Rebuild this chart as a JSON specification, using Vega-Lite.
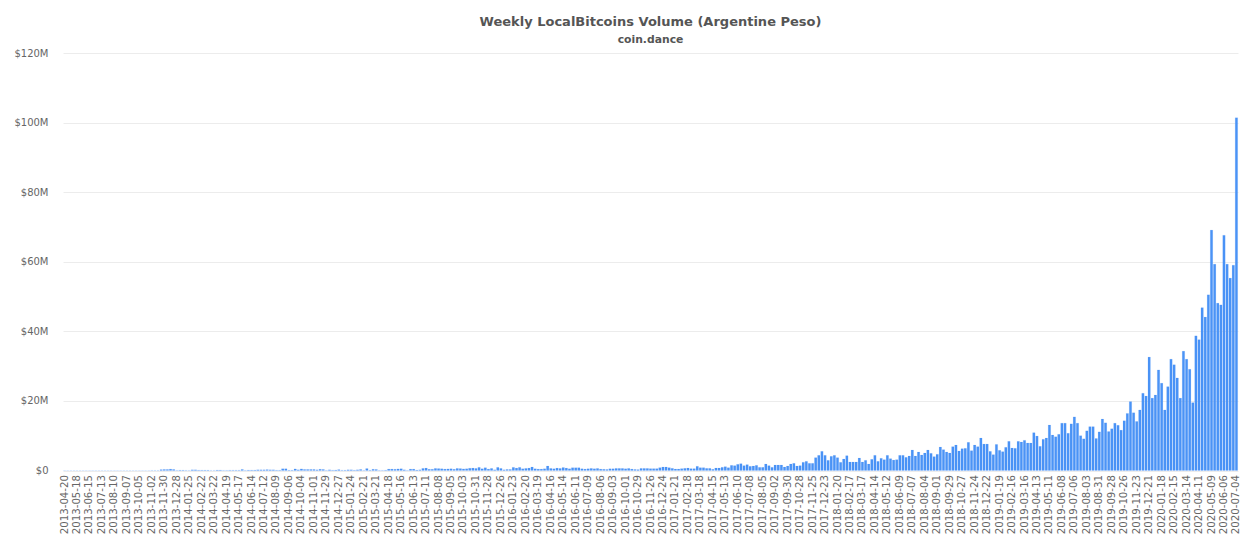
{"$schema":"https://vega.github.io/schema/vega-lite/v6.json","width":1175,"height":417.5,"autosize":"none","padding":{"left":63,"top":53,"right":15,"bottom":79.5},"background":"white","config":{"view":{"stroke":null}},"title":{"text":"Weekly LocalBitcoins Volume (Argentine Peso)","subtitle":"coin.dance","anchor":"middle","font":"DejaVu Sans","fontSize":13,"fontWeight":"bold","color":"#555555","subtitleFont":"DejaVu Sans","subtitleFontSize":10.8,"subtitleFontWeight":"bold","subtitleColor":"#555555","subtitlePadding":5,"offset":3},"data":{"values":[
{"d":"2013-04-20","v":0},{"d":"2013-04-27","v":0},{"d":"2013-05-04","v":0},{"d":"2013-05-11","v":0},{"d":"2013-05-18","v":0},{"d":"2013-05-25","v":0},{"d":"2013-06-01","v":0},{"d":"2013-06-08","v":0},{"d":"2013-06-15","v":0},{"d":"2013-06-22","v":0},{"d":"2013-06-29","v":0},{"d":"2013-07-06","v":0},{"d":"2013-07-13","v":0},{"d":"2013-07-20","v":0},{"d":"2013-07-27","v":0},{"d":"2013-08-03","v":0},{"d":"2013-08-10","v":0},{"d":"2013-08-17","v":0},{"d":"2013-08-24","v":0},{"d":"2013-08-31","v":0},{"d":"2013-09-07","v":0},{"d":"2013-09-14","v":0},{"d":"2013-09-21","v":0},{"d":"2013-09-28","v":0},{"d":"2013-10-05","v":0},{"d":"2013-10-12","v":0},{"d":"2013-10-19","v":0},{"d":"2013-10-26","v":0},{"d":"2013-11-02","v":0.03},{"d":"2013-11-09","v":0.03},{"d":"2013-11-16","v":0.03},{"d":"2013-11-23","v":0.25},{"d":"2013-11-30","v":0.3},{"d":"2013-12-07","v":0.3},{"d":"2013-12-14","v":0.4},{"d":"2013-12-21","v":0.3},{"d":"2013-12-28","v":0.05},
{"d":"2014-01-04","v":0.1},{"d":"2014-01-11","v":0.1},{"d":"2014-01-18","v":0.05},{"d":"2014-01-25","v":0.03},{"d":"2014-02-01","v":0.2},{"d":"2014-02-08","v":0.2},{"d":"2014-02-15","v":0.1},{"d":"2014-02-22","v":0.1},{"d":"2014-03-01","v":0.1},{"d":"2014-03-08","v":0.1},{"d":"2014-03-15","v":0.03},{"d":"2014-03-22","v":0.03},{"d":"2014-03-29","v":0.12},{"d":"2014-04-05","v":0.12},{"d":"2014-04-12","v":0.05},{"d":"2014-04-19","v":0.05},{"d":"2014-04-26","v":0.08},{"d":"2014-05-03","v":0.08},{"d":"2014-05-10","v":0.08},{"d":"2014-05-17","v":0.08},{"d":"2014-05-24","v":0.3},{"d":"2014-05-31","v":0.05},{"d":"2014-06-07","v":0.12},{"d":"2014-06-14","v":0.12},{"d":"2014-06-21","v":0.12},{"d":"2014-06-28","v":0.2},{"d":"2014-07-05","v":0.2},{"d":"2014-07-12","v":0.2},{"d":"2014-07-19","v":0.25},{"d":"2014-07-26","v":0.2},{"d":"2014-08-02","v":0.2},{"d":"2014-08-09","v":0.1},{"d":"2014-08-16","v":0.1},{"d":"2014-08-23","v":0.5},{"d":"2014-08-30","v":0.5},{"d":"2014-09-06","v":0.1},{"d":"2014-09-13","v":0.1},{"d":"2014-09-20","v":0.45},{"d":"2014-09-27","v":0.2},{"d":"2014-10-04","v":0.45},{"d":"2014-10-11","v":0.3},{"d":"2014-10-18","v":0.3},{"d":"2014-10-25","v":0.3},{"d":"2014-11-01","v":0.3},{"d":"2014-11-08","v":0.2},{"d":"2014-11-15","v":0.35},{"d":"2014-11-22","v":0.3},{"d":"2014-11-29","v":0.05},{"d":"2014-12-06","v":0.2},{"d":"2014-12-13","v":0.1},{"d":"2014-12-20","v":0.15},{"d":"2014-12-27","v":0.25},
{"d":"2015-01-03","v":0.08},{"d":"2015-01-10","v":0.1},{"d":"2015-01-17","v":0.2},{"d":"2015-01-24","v":0.2},{"d":"2015-01-31","v":0.1},{"d":"2015-02-07","v":0.2},{"d":"2015-02-14","v":0.3},{"d":"2015-02-21","v":0.05},{"d":"2015-02-28","v":0.55},{"d":"2015-03-07","v":0.1},{"d":"2015-03-14","v":0.35},{"d":"2015-03-21","v":0.3},{"d":"2015-03-28","v":0.05},{"d":"2015-04-04","v":0.05},{"d":"2015-04-11","v":0.1},{"d":"2015-04-18","v":0.4},{"d":"2015-04-25","v":0.4},{"d":"2015-05-02","v":0.35},{"d":"2015-05-09","v":0.45},{"d":"2015-05-16","v":0.5},{"d":"2015-05-23","v":0.2},{"d":"2015-05-30","v":0.05},{"d":"2015-06-06","v":0.4},{"d":"2015-06-13","v":0.4},{"d":"2015-06-20","v":0.15},{"d":"2015-06-27","v":0.2},{"d":"2015-07-04","v":0.6},{"d":"2015-07-11","v":0.7},{"d":"2015-07-18","v":0.35},{"d":"2015-07-25","v":0.35},{"d":"2015-08-01","v":0.6},{"d":"2015-08-08","v":0.55},{"d":"2015-08-15","v":0.5},{"d":"2015-08-22","v":0.4},{"d":"2015-08-29","v":0.45},{"d":"2015-09-05","v":0.5},{"d":"2015-09-12","v":0.35},{"d":"2015-09-19","v":0.6},{"d":"2015-09-26","v":0.55},{"d":"2015-10-03","v":0.45},{"d":"2015-10-10","v":0.5},{"d":"2015-10-17","v":0.65},{"d":"2015-10-24","v":0.7},{"d":"2015-10-31","v":0.6},{"d":"2015-11-07","v":0.9},{"d":"2015-11-14","v":0.5},{"d":"2015-11-21","v":0.8},{"d":"2015-11-28","v":0.4},{"d":"2015-12-05","v":0.6},{"d":"2015-12-12","v":0.2},{"d":"2015-12-19","v":0.9},{"d":"2015-12-26","v":0.6},
{"d":"2016-01-02","v":0.2},{"d":"2016-01-09","v":0.3},{"d":"2016-01-16","v":0.3},{"d":"2016-01-23","v":0.9},{"d":"2016-01-30","v":0.7},{"d":"2016-02-06","v":0.9},{"d":"2016-02-13","v":0.5},{"d":"2016-02-20","v":0.6},{"d":"2016-02-27","v":0.7},{"d":"2016-03-05","v":1.0},{"d":"2016-03-12","v":0.5},{"d":"2016-03-19","v":0.4},{"d":"2016-03-26","v":0.4},{"d":"2016-04-02","v":0.5},{"d":"2016-04-09","v":1.3},{"d":"2016-04-16","v":0.6},{"d":"2016-04-23","v":0.5},{"d":"2016-04-30","v":0.7},{"d":"2016-05-07","v":0.6},{"d":"2016-05-14","v":0.85},{"d":"2016-05-21","v":0.7},{"d":"2016-05-28","v":0.5},{"d":"2016-06-04","v":0.8},{"d":"2016-06-11","v":0.8},{"d":"2016-06-18","v":0.8},{"d":"2016-06-25","v":0.5},{"d":"2016-07-02","v":0.4},{"d":"2016-07-09","v":0.5},{"d":"2016-07-16","v":0.6},{"d":"2016-07-23","v":0.5},{"d":"2016-07-30","v":0.6},{"d":"2016-08-06","v":0.4},{"d":"2016-08-13","v":0.35},{"d":"2016-08-20","v":0.3},{"d":"2016-08-27","v":0.5},{"d":"2016-09-03","v":0.5},{"d":"2016-09-10","v":0.6},{"d":"2016-09-17","v":0.6},{"d":"2016-09-24","v":0.6},{"d":"2016-10-01","v":0.5},{"d":"2016-10-08","v":0.6},{"d":"2016-10-15","v":0.4},{"d":"2016-10-22","v":0.3},{"d":"2016-10-29","v":0.25},{"d":"2016-11-05","v":0.6},{"d":"2016-11-12","v":0.6},{"d":"2016-11-19","v":0.6},{"d":"2016-11-26","v":0.53},{"d":"2016-12-03","v":0.53},{"d":"2016-12-10","v":0.53},{"d":"2016-12-17","v":0.81},{"d":"2016-12-24","v":1.0},{"d":"2016-12-31","v":1.0},
{"d":"2017-01-07","v":0.81},{"d":"2017-01-14","v":0.62},{"d":"2017-01-21","v":0.43},{"d":"2017-01-28","v":0.43},{"d":"2017-02-04","v":0.53},{"d":"2017-02-11","v":0.62},{"d":"2017-02-18","v":0.72},{"d":"2017-02-25","v":0.53},{"d":"2017-03-04","v":0.53},{"d":"2017-03-11","v":1.2},{"d":"2017-03-18","v":0.81},{"d":"2017-03-25","v":0.81},{"d":"2017-04-01","v":0.62},{"d":"2017-04-08","v":0.62},{"d":"2017-04-15","v":0.34},{"d":"2017-04-22","v":0.72},{"d":"2017-04-29","v":0.72},{"d":"2017-05-06","v":0.91},{"d":"2017-05-13","v":1.1},{"d":"2017-05-20","v":0.81},{"d":"2017-05-27","v":1.48},{"d":"2017-06-03","v":1.39},{"d":"2017-06-10","v":1.77},{"d":"2017-06-17","v":1.96},{"d":"2017-06-24","v":1.39},{"d":"2017-07-01","v":1.68},{"d":"2017-07-08","v":1.2},{"d":"2017-07-15","v":1.29},{"d":"2017-07-22","v":1.48},{"d":"2017-07-29","v":0.91},{"d":"2017-08-05","v":0.91},{"d":"2017-08-12","v":1.87},{"d":"2017-08-19","v":1.39},{"d":"2017-08-26","v":0.91},{"d":"2017-09-02","v":1.58},{"d":"2017-09-09","v":1.58},{"d":"2017-09-16","v":1.58},{"d":"2017-09-23","v":1.0},{"d":"2017-09-30","v":1.29},{"d":"2017-10-07","v":1.87},{"d":"2017-10-14","v":2.06},{"d":"2017-10-21","v":1.29},{"d":"2017-10-28","v":1.39},{"d":"2017-11-04","v":2.35},{"d":"2017-11-11","v":2.63},{"d":"2017-11-18","v":2.06},{"d":"2017-11-25","v":2.06},{"d":"2017-12-02","v":3.69},{"d":"2017-12-09","v":4.36},{"d":"2017-12-16","v":5.51},{"d":"2017-12-23","v":4.36},{"d":"2017-12-30","v":2.92},
{"d":"2018-01-06","v":4.07},{"d":"2018-01-13","v":4.36},{"d":"2018-01-20","v":3.69},{"d":"2018-01-27","v":2.35},{"d":"2018-02-03","v":3.3},{"d":"2018-02-10","v":4.26},{"d":"2018-02-17","v":2.44},{"d":"2018-02-24","v":2.44},{"d":"2018-03-03","v":2.44},{"d":"2018-03-10","v":3.59},{"d":"2018-03-17","v":2.44},{"d":"2018-03-24","v":2.92},{"d":"2018-03-31","v":1.87},{"d":"2018-04-07","v":3.21},{"d":"2018-04-14","v":4.36},{"d":"2018-04-21","v":2.63},{"d":"2018-04-28","v":3.5},{"d":"2018-05-05","v":3.11},{"d":"2018-05-12","v":4.36},{"d":"2018-05-19","v":3.4},{"d":"2018-05-26","v":3.0},{"d":"2018-06-02","v":3.11},{"d":"2018-06-09","v":4.36},{"d":"2018-06-16","v":4.36},{"d":"2018-06-23","v":3.78},{"d":"2018-06-30","v":4.17},{"d":"2018-07-07","v":5.89},{"d":"2018-07-14","v":4.17},{"d":"2018-07-21","v":5.32},{"d":"2018-07-28","v":4.45},{"d":"2018-08-04","v":5.03},{"d":"2018-08-11","v":5.89},{"d":"2018-08-18","v":4.93},{"d":"2018-08-25","v":3.98},{"d":"2018-09-01","v":4.65},{"d":"2018-09-08","v":6.75},{"d":"2018-09-15","v":5.99},{"d":"2018-09-22","v":5.32},{"d":"2018-09-29","v":5.03},{"d":"2018-10-06","v":6.85},{"d":"2018-10-13","v":7.33},{"d":"2018-10-20","v":5.6},{"d":"2018-10-27","v":6.27},{"d":"2018-11-03","v":6.37},{"d":"2018-11-10","v":8.1},{"d":"2018-11-17","v":5.7},{"d":"2018-11-24","v":7.33},{"d":"2018-12-01","v":6.85},{"d":"2018-12-08","v":9.34},{"d":"2018-12-15","v":7.6},{"d":"2018-12-22","v":7.6},{"d":"2018-12-29","v":5.5},
{"d":"2019-01-05","v":4.55},{"d":"2019-01-12","v":7.5},{"d":"2019-01-19","v":5.8},{"d":"2019-01-26","v":5.41},{"d":"2019-02-02","v":6.66},{"d":"2019-02-09","v":8.38},{"d":"2019-02-16","v":6.47},{"d":"2019-02-23","v":6.37},{"d":"2019-03-02","v":8.38},{"d":"2019-03-09","v":8.19},{"d":"2019-03-16","v":8.67},{"d":"2019-03-23","v":7.9},{"d":"2019-03-30","v":7.9},{"d":"2019-04-06","v":10.87},{"d":"2019-04-13","v":9.9},{"d":"2019-04-20","v":6.95},{"d":"2019-04-27","v":8.96},{"d":"2019-05-04","v":9.34},{"d":"2019-05-11","v":13.08},{"d":"2019-05-18","v":10.2},{"d":"2019-05-25","v":9.7},{"d":"2019-06-01","v":10.4},{"d":"2019-06-08","v":13.6},{"d":"2019-06-15","v":13.6},{"d":"2019-06-22","v":10.7},{"d":"2019-06-29","v":13.4},{"d":"2019-07-06","v":15.4},{"d":"2019-07-13","v":13.6},{"d":"2019-07-20","v":10.0},{"d":"2019-07-27","v":9.1},{"d":"2019-08-03","v":11.4},{"d":"2019-08-10","v":12.6},{"d":"2019-08-17","v":12.6},{"d":"2019-08-24","v":9.2},{"d":"2019-08-31","v":11.1},{"d":"2019-09-07","v":14.8},{"d":"2019-09-14","v":13.7},{"d":"2019-09-21","v":11.2},{"d":"2019-09-28","v":12.0},{"d":"2019-10-05","v":13.6},{"d":"2019-10-12","v":13.0},{"d":"2019-10-19","v":11.6},{"d":"2019-10-26","v":14.3},{"d":"2019-11-02","v":16.4},{"d":"2019-11-09","v":19.8},{"d":"2019-11-16","v":16.6},{"d":"2019-11-23","v":14.1},{"d":"2019-11-30","v":17.4},{"d":"2019-12-07","v":22.2},{"d":"2019-12-14","v":21.4},{"d":"2019-12-21","v":32.6},{"d":"2019-12-28","v":20.8},
{"d":"2020-01-04","v":21.7},{"d":"2020-01-11","v":28.9},{"d":"2020-01-18","v":25.1},{"d":"2020-01-25","v":17.4},{"d":"2020-02-01","v":24.1},{"d":"2020-02-08","v":32.0},{"d":"2020-02-15","v":30.4},{"d":"2020-02-22","v":26.6},{"d":"2020-02-29","v":20.8},{"d":"2020-03-07","v":34.3},{"d":"2020-03-14","v":32.0},{"d":"2020-03-21","v":29.1},{"d":"2020-03-28","v":19.5},{"d":"2020-04-04","v":38.7},{"d":"2020-04-11","v":37.6},{"d":"2020-04-18","v":46.8},{"d":"2020-04-25","v":44.1},{"d":"2020-05-02","v":50.5},{"d":"2020-05-09","v":69.1},{"d":"2020-05-16","v":59.3},{"d":"2020-05-23","v":48.1},{"d":"2020-05-30","v":47.6},{"d":"2020-06-06","v":67.6},{"d":"2020-06-13","v":59.3},{"d":"2020-06-20","v":55.3},{"d":"2020-06-27","v":59.0},{"d":"2020-07-04","v":101.4}
]},"mark":{"type":"bar","fill":"#4a93f6","stroke":"#4a93f6","strokeOpacity":0.2,"strokeWidth":0.5},"encoding":{"x":{"field":"d","type":"ordinal","title":null,"scale":{"paddingInner":0.22,"paddingOuter":0.11},"axis":{"values":["2013-04-20","2013-05-18","2013-06-15","2013-07-13","2013-08-10","2013-09-07","2013-10-05","2013-11-02","2013-11-30","2013-12-28","2014-01-25","2014-02-22","2014-03-22","2014-04-19","2014-05-17","2014-06-14","2014-07-12","2014-08-09","2014-09-06","2014-10-04","2014-11-01","2014-11-29","2014-12-27","2015-01-24","2015-02-21","2015-03-21","2015-04-18","2015-05-16","2015-06-13","2015-07-11","2015-08-08","2015-09-05","2015-10-03","2015-10-31","2015-11-28","2015-12-26","2016-01-23","2016-02-20","2016-03-19","2016-04-16","2016-05-14","2016-06-11","2016-07-09","2016-08-06","2016-09-03","2016-10-01","2016-10-29","2016-11-26","2016-12-24","2017-01-21","2017-02-18","2017-03-18","2017-04-15","2017-05-13","2017-06-10","2017-07-08","2017-08-05","2017-09-02","2017-09-30","2017-10-28","2017-11-25","2017-12-23","2018-01-20","2018-02-17","2018-03-17","2018-04-14","2018-05-12","2018-06-09","2018-07-07","2018-08-04","2018-09-01","2018-09-29","2018-10-27","2018-11-24","2018-12-22","2019-01-19","2019-02-16","2019-03-16","2019-04-13","2019-05-11","2019-06-08","2019-07-06","2019-08-03","2019-08-31","2019-09-28","2019-10-26","2019-11-23","2019-12-21","2020-01-18","2020-02-15","2020-03-14","2020-04-11","2020-05-09","2020-06-06","2020-07-04"],"labelAngle":270,"labelAlign":"right","labelBaseline":"middle","labelOverlap":false,"labelFont":"DejaVu Sans","labelFontSize":10.2,"labelColor":"#666666","labelPadding":4,"ticks":false,"domain":false,"grid":false}},"y":{"field":"v","type":"quantitative","title":null,"scale":{"domain":[0,120],"nice":false},"axis":{"values":[0,20,40,60,80,100,120],"labelExpr":"datum.value==0?'$0':'$'+datum.value+'M'","labelFont":"DejaVu Sans","labelFontSize":10,"labelColor":"#666666","labelPadding":15,"ticks":false,"domain":false,"grid":true,"gridColor":"#ececec","gridWidth":1}}}}
